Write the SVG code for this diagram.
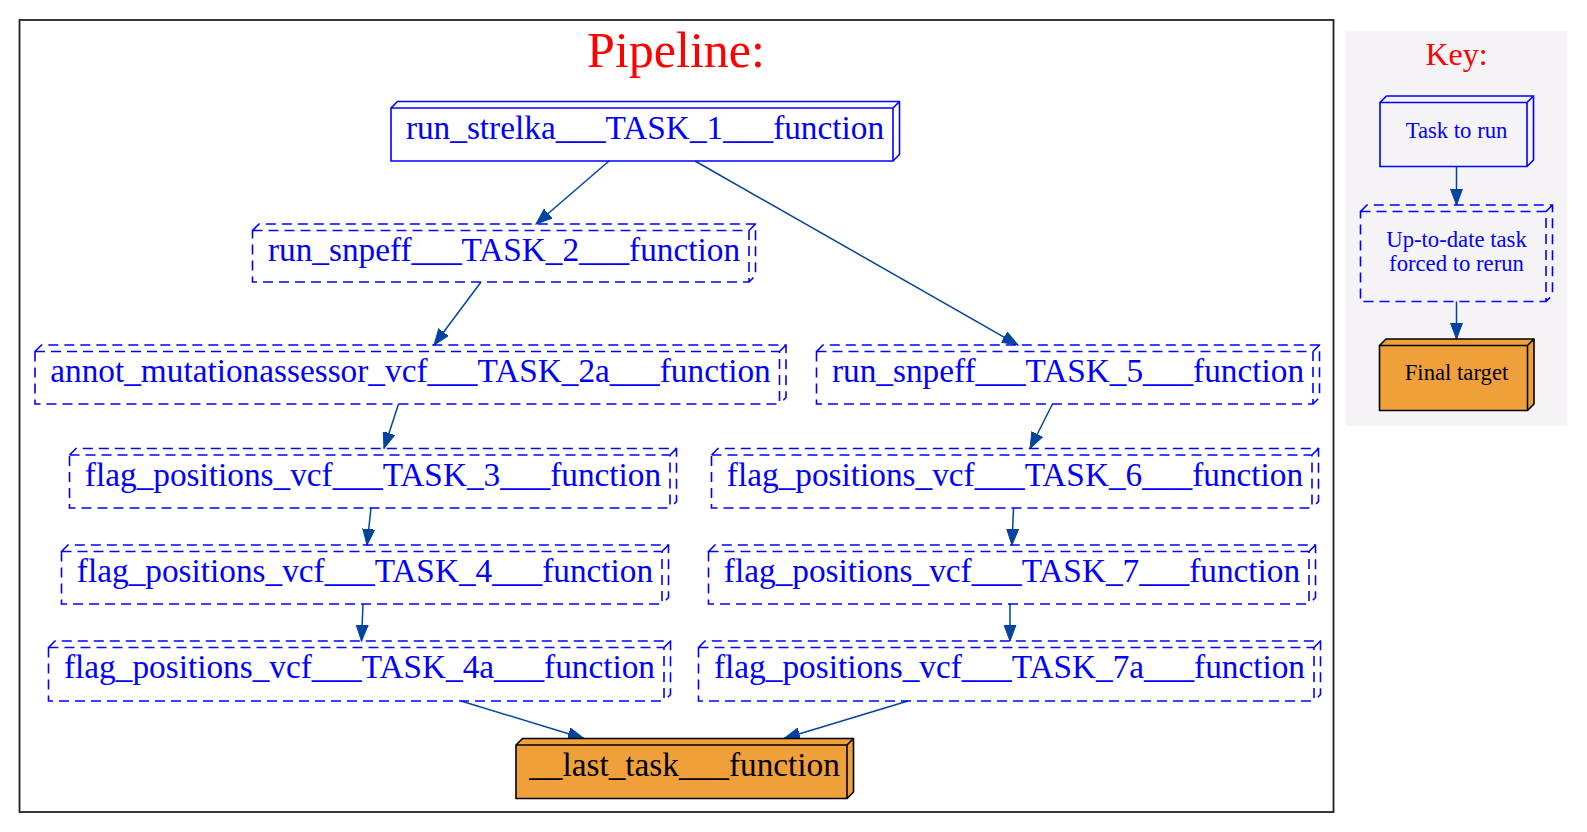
<svg xmlns="http://www.w3.org/2000/svg" width="1587" height="832" viewBox="0 0 1587 832">
<style>
.t{font-family:"Liberation Serif","Times New Roman",serif;font-size:33.3px;fill:#0000ff;text-anchor:middle}
.kt{font-family:"Liberation Serif","Times New Roman",serif;font-size:22.7px;fill:#0000ff;text-anchor:middle}
.solid{fill:none;stroke:#0000ff;stroke-width:1.6}
.dash{fill:none;stroke:#0000ff;stroke-width:1.6;stroke-dasharray:10,6}
.fin{fill:#efa03b;stroke:#000000;stroke-width:1.6;stroke-linejoin:round}
.finl{fill:none;stroke:#000000;stroke-width:1.6}
.e{fill:none;stroke:#0044a0;stroke-width:1.5;marker-end:url(#ah)}
.title{font-family:"Liberation Serif","Times New Roman",serif;fill:#ff0000;text-anchor:middle}
</style>
<defs>
<marker id="ah" markerUnits="userSpaceOnUse" markerWidth="17" markerHeight="13" refX="16" refY="6.5" orient="auto">
<path d="M0,0.5 L16,6.5 L0,12.5 Z" fill="#0044a0" stroke="#0044a0" stroke-width="1"/>
</marker>
</defs>
<rect width="1587" height="832" fill="#ffffff"/>
<g id="cluster_pipeline">
<rect x="19.5" y="20" width="1314" height="792" fill="none" stroke="#222222" stroke-width="1.8"/>
<text class="title" x="676" y="67" font-size="50">Pipeline:</text>
</g>
<g id="cluster_key">
<rect x="1345.5" y="31" width="222" height="395" fill="#f5f3f5"/>
<text class="title" x="1456.5" y="65" font-size="32">Key:</text>
</g>
<g id="connectors">
<path class="e" d="M609,161 L536,224"/>
<path class="e" d="M695,161 L1018,345"/>
<path class="e" d="M481,282 L434,345"/>
<path class="e" d="M398.5,404 L384,448.5"/>
<path class="e" d="M1052.5,404 L1030,448.5"/>
<path class="e" d="M371,508 L367,545"/>
<path class="e" d="M1013.5,508 L1012,545"/>
<path class="e" d="M363,604 L361.5,641"/>
<path class="e" d="M1010,604 L1010,641"/>
<path class="e" d="M461,701 L584,738.5"/>
<path class="e" d="M908,701 L784,738.5"/>
<path class="e" d="M1456.5,166.5 L1456.5,205"/>
<path class="e" d="M1456.5,301.5 L1456.5,339"/>
</g>
<g id="node_task1">
<path class="solid" d="M391,108 H893 V161 H391 Z M391,108 L397.5,101.5 H899.5 V154.5 L893,161 M893,108 L899.5,101.5"/>
<text class="t" x="645" y="138.5">run_strelka___TASK_1___function</text>
</g>
<g id="node_task2">
<path class="dash" d="M252.5,230.5 H749 V282 H252.5 Z M252.5,230.5 L259,224 H755.5 V275.5 L749,282 M749,230.5 L755.5,224"/>
<text class="t" x="504" y="261">run_snpeff___TASK_2___function</text>
</g>
<g id="node_task2a">
<path class="dash" d="M35,351.5 H779.5 V404 H35 Z M35,351.5 L41.5,345 H786 V397.5 L779.5,404 M779.5,351.5 L786,345"/>
<text class="t" x="410.5" y="382">annot_mutationassessor_vcf___TASK_2a___function</text>
</g>
<g id="node_task3">
<path class="dash" d="M69.5,455 H670 V508 H69.5 Z M69.5,455 L76,448.5 H676.5 V501.5 L670,508 M670,455 L676.5,448.5"/>
<text class="t" x="373" y="485.5">flag_positions_vcf___TASK_3___function</text>
</g>
<g id="node_task4">
<path class="dash" d="M61.5,551.5 H662 V604 H61.5 Z M61.5,551.5 L68,545 H668.5 V597.5 L662,604 M662,551.5 L668.5,545"/>
<text class="t" x="365" y="582">flag_positions_vcf___TASK_4___function</text>
</g>
<g id="node_task4a">
<path class="dash" d="M48.5,647.5 H664 V701 H48.5 Z M48.5,647.5 L55,641 H670.5 V694.5 L664,701 M664,647.5 L670.5,641"/>
<text class="t" x="359.5" y="678">flag_positions_vcf___TASK_4a___function</text>
</g>
<g id="node_task5">
<path class="dash" d="M816.5,351.5 H1313 V404 H816.5 Z M816.5,351.5 L823,345 H1319.5 V397.5 L1313,404 M1313,351.5 L1319.5,345"/>
<text class="t" x="1068" y="382">run_snpeff___TASK_5___function</text>
</g>
<g id="node_task6">
<path class="dash" d="M711.5,455 H1312 V508 H711.5 Z M711.5,455 L718,448.5 H1318.5 V501.5 L1312,508 M1312,455 L1318.5,448.5"/>
<text class="t" x="1015" y="485.5">flag_positions_vcf___TASK_6___function</text>
</g>
<g id="node_task7">
<path class="dash" d="M708.5,551.5 H1309 V604 H708.5 Z M708.5,551.5 L715,545 H1315.5 V597.5 L1309,604 M1309,551.5 L1315.5,545"/>
<text class="t" x="1012" y="582">flag_positions_vcf___TASK_7___function</text>
</g>
<g id="node_task7a">
<path class="dash" d="M698.5,647.5 H1314 V701 H698.5 Z M698.5,647.5 L705,641 H1320.5 V694.5 L1314,701 M1314,647.5 L1320.5,641"/>
<text class="t" x="1009.5" y="678">flag_positions_vcf___TASK_7a___function</text>
</g>
<g id="node_last">
<path class="fin" d="M516,745 L522.5,738.5 H853.5 V792 L847,798.5 H516 Z"/>
<path class="finl" d="M516,745 H847 V798.5 M847,745 L853.5,738.5"/>
<text class="t" x="684.5" y="776" style="fill:#000000">__last_task___function</text>
</g>
<g id="key_task_to_run">
<path class="solid" d="M1380,102.5 H1527 V166.5 H1380 Z M1380,102.5 L1386.5,96 H1533.5 V160 L1527,166.5 M1527,102.5 L1533.5,96"/>
<text class="kt" x="1456.5" y="137.5">Task to run</text>
</g>
<g id="key_uptodate">
<path class="dash" d="M1360.5,211.5 H1546 V301.5 H1360.5 Z M1360.5,211.5 L1367,205 H1552.5 V295 L1546,301.5 M1546,211.5 L1552.5,205"/>
<text class="kt" x="1456.5" y="246.5">Up-to-date task</text>
<text class="kt" x="1456.5" y="270.5">forced to rerun</text>
</g>
<g id="key_final">
<path class="fin" d="M1379.5,345.5 L1386,339 H1534 V404 L1527.5,410.5 H1379.5 Z"/>
<path class="finl" d="M1379.5,345.5 H1527.5 V410.5 M1527.5,345.5 L1534,339"/>
<text class="kt" x="1456.5" y="380" style="fill:#000000">Final target</text>
</g>
</svg>
